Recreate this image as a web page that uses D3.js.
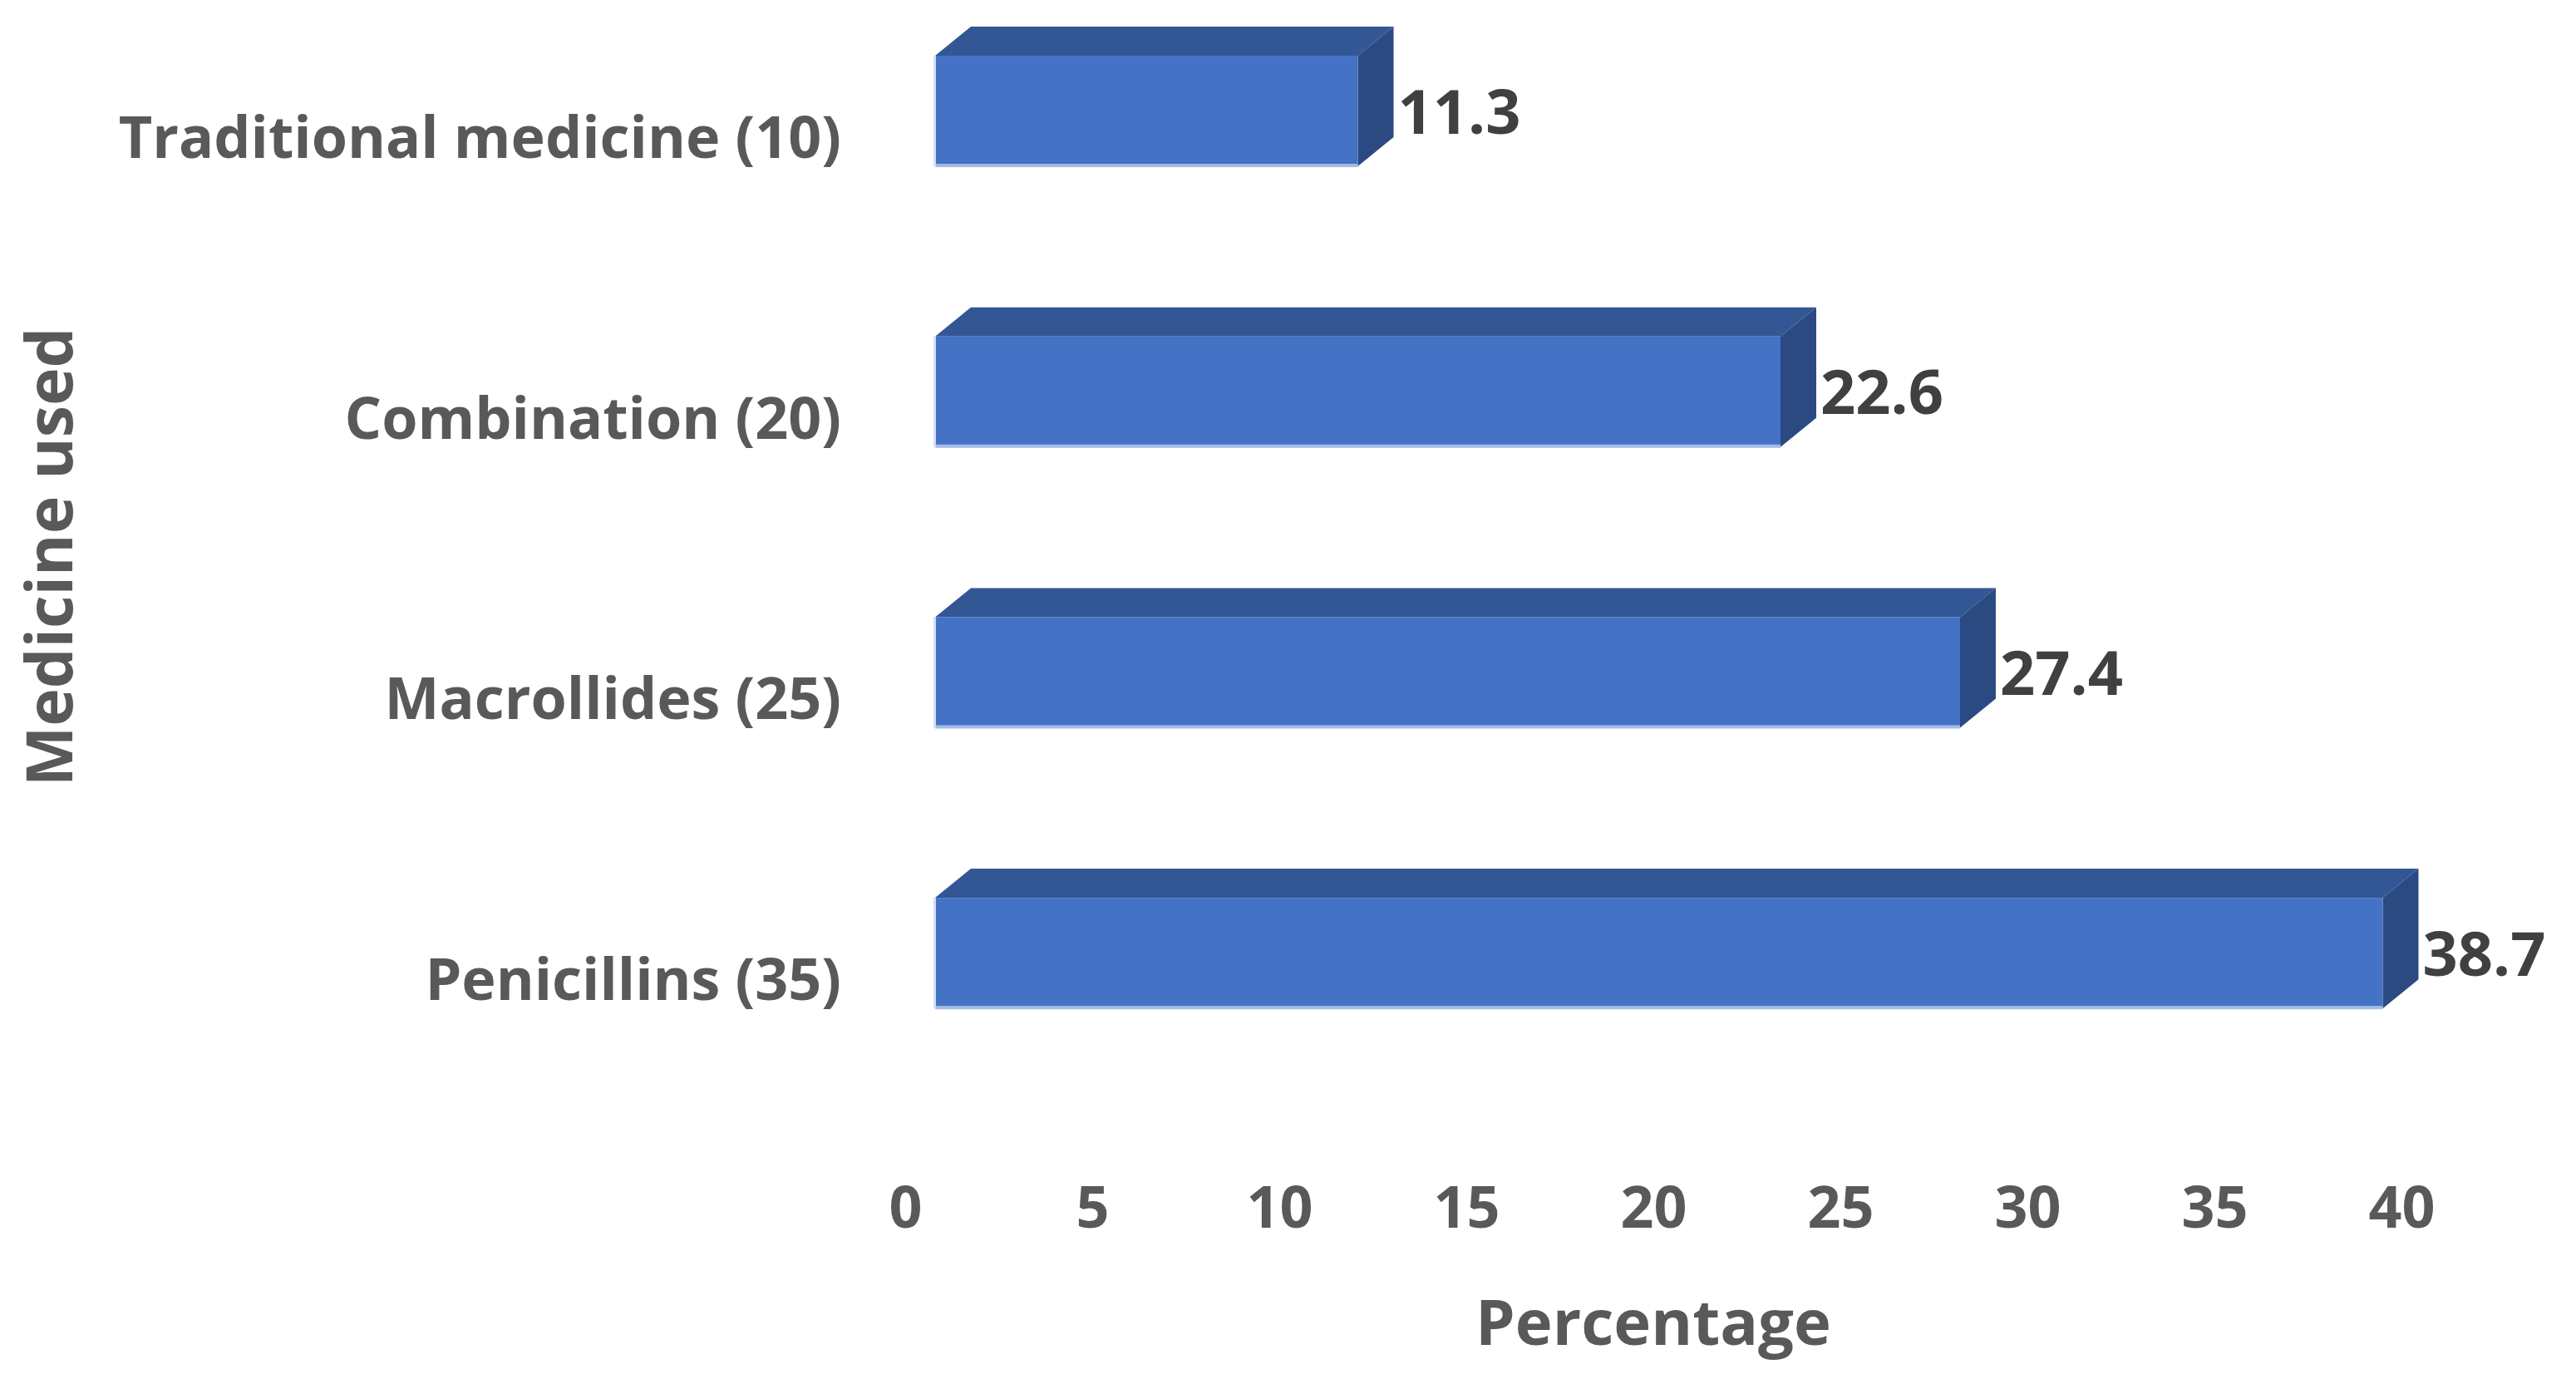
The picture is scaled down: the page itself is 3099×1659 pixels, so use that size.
<!DOCTYPE html>
<html>
<head>
<meta charset="utf-8">
<script src="https://cdn.jsdelivr.net/npm/d3@7"></script>
<style>
  html, body { margin: 0; padding: 0; background: #ffffff; }
  svg { display: block; }
  text { font-family: "Open Sans", Lato, sans-serif; font-weight: 700; }
</style>
</head>
<body>
<svg id="chart" width="3099" height="1659"></svg>
<script>
// ---- data ----
const categories = ["Traditional medicine (10)", "Combination (20)", "Macrollides (25)", "Penicillins (35)"];
const percentages = [11.3, 22.6, 27.4, 38.7];
const xTicks = [0, 5, 10, 15, 20, 25, 30, 35, 40];
const xTitle = "Percentage";
const yTitle = "Medicine used";

// ---- layout ----
const W = 3099, H = 1659;
const FONT = "'Open Sans', Lato, sans-serif";
const svg = d3.select("#chart");
svg.append("rect").attr("width", W).attr("height", H).attr("fill", "#ffffff");

const x = d3.scaleLinear().domain([0, 40]).range([1089, 2889]);
const y = d3.scaleBand().domain(categories).range([-35.3, 1315.5]).paddingInner(0.606).paddingOuter(0.303);

const frontOffset = 36;      // bar front face sits right of floor edge
const depthX = 43, depthY = -35;
const colFront = "#4472C4", colTop = "#335794", colSide = "#2A4A81";

const bars = svg.append("g").attr("class", "bars");
categories.forEach((c, i) => {
  const v = percentages[i];
  const x0 = x(0) + frontOffset, x1 = x(v) + frontOffset;
  const t = y(c), b = y(c) + y.bandwidth();
  const g = bars.append("g");
  g.append("polygon")
    .attr("points", [[x0, t], [x0 + depthX, t + depthY], [x1 + depthX, t + depthY], [x1, t]].map(p => p.join(",")).join(" "))
    .attr("fill", colTop);
  g.append("polygon")
    .attr("points", [[x1, t], [x1 + depthX, t + depthY], [x1 + depthX, b + depthY], [x1, b]].map(p => p.join(",")).join(" "))
    .attr("fill", colSide);
  g.append("rect").attr("x", x0).attr("y", t).attr("width", x1 - x0).attr("height", b - t).attr("fill", colFront);
  g.append("rect").attr("x", x0).attr("y", b - 3).attr("width", x1 - x0).attr("height", 4).attr("fill", "#A6BCE5");
  g.append("rect").attr("x", x0 - 2).attr("y", t).attr("width", 3).attr("height", b - t).attr("fill", "#D3DEF2");
  g.append("text")
    .attr("x", x1 + depthX + 5)
    .attr("y", (t + b) / 2 + 27)
    .attr("font-size", 74)
    .attr("fill", "#404040")
    .text(d3.format(".1f")(v));
});

// category labels
svg.append("g").selectAll("text").data(categories).join("text")
  .attr("x", 1012)
  .attr("y", d => y(d) + y.bandwidth() / 2 + 56.5)
  .attr("text-anchor", "end")
  .attr("font-size", 70)
  .attr("fill", "#595959")
  .text(d => d);

// x axis (labels only)
const xAxis = d3.axisBottom(x).tickValues(xTicks).tickSize(0).tickPadding(0);
const ax = svg.append("g").attr("transform", "translate(0,1477)").call(xAxis);
ax.select(".domain").remove();
ax.selectAll("text")
  .attr("dy", null).attr("y", 0)
  .style("font-family", FONT)
  .style("font-weight", 700)
  .style("font-size", "70px")
  .attr("fill", "#595959");

// axis titles
svg.append("text")
  .attr("x", (x(0) + x(40)) / 2).attr("y", 1618)
  .attr("text-anchor", "middle")
  .attr("font-size", 76).attr("fill", "#595959")
  .text(xTitle);

svg.append("text")
  .attr("transform", "translate(87,670) rotate(-90)")
  .attr("text-anchor", "middle")
  .attr("font-size", 77).attr("fill", "#595959")
  .text(yTitle);
</script>
</body>
</html>
